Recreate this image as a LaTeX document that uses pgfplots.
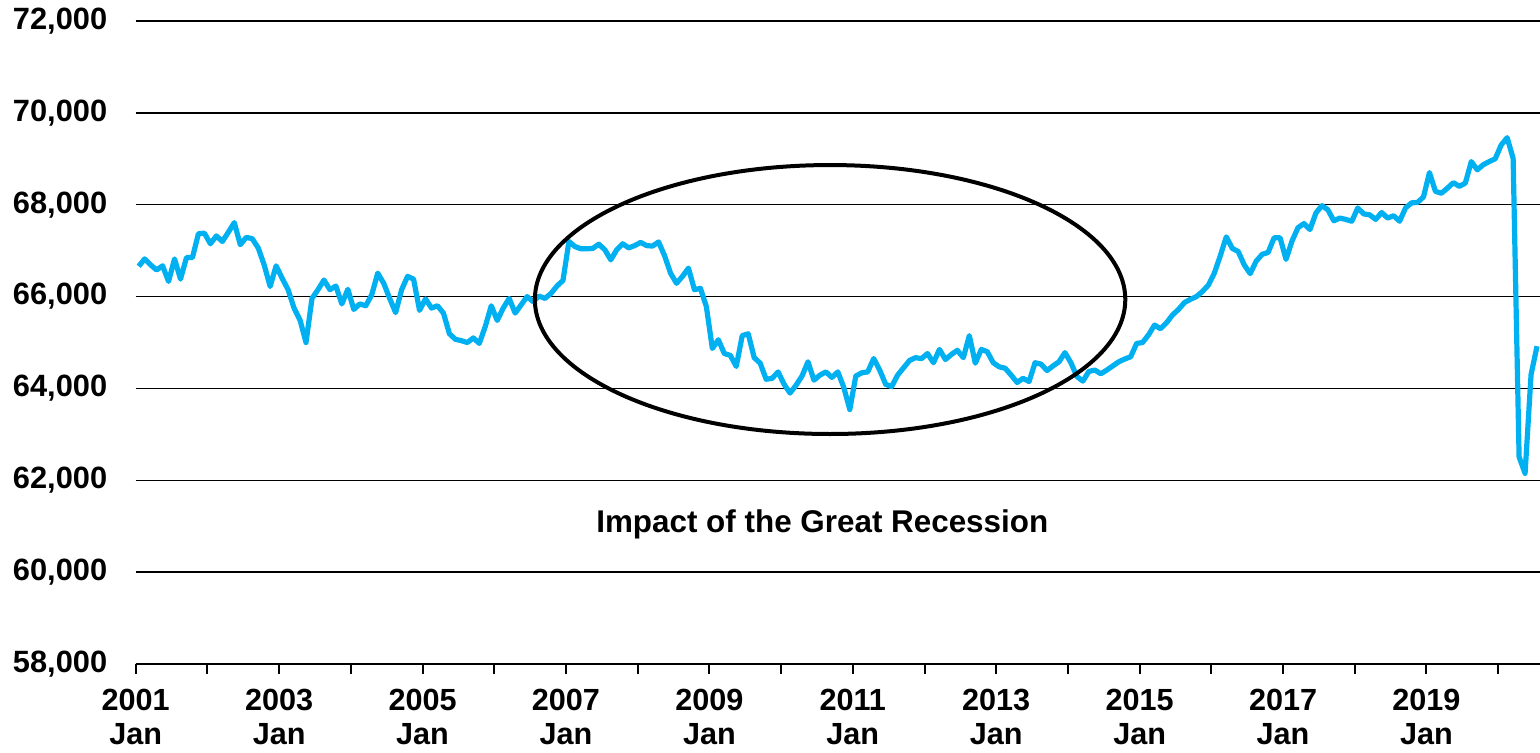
\documentclass[border=0pt]{standalone}
\usepackage{fontspec}
\setmainfont{Liberation Sans}
\usepackage{pgfplots}
\usepackage{pgfplotstable}
\pgfplotsset{compat=1.18}
\definecolor{lineblue}{RGB}{0,176,240}
\pgfplotstableread{
m v
0 66660
1 66820
2 66690
3 66580
4 66670
5 66330
6 66820
7 66380
8 66850
9 66850
10 67370
11 67380
12 67150
13 67320
14 67200
15 67400
16 67610
17 67130
18 67290
19 67260
20 67060
21 66690
22 66220
23 66670
24 66400
25 66150
26 65750
27 65490
28 65000
29 65960
30 66150
31 66360
32 66150
33 66230
34 65840
35 66160
36 65720
37 65840
38 65800
39 66040
40 66510
41 66290
42 65960
43 65650
44 66150
45 66440
46 66380
47 65700
48 65950
49 65750
50 65800
51 65640
52 65190
53 65070
54 65040
55 65000
56 65100
57 64980
58 65350
59 65800
60 65480
61 65750
62 65960
63 65640
64 65820
65 66000
66 65890
67 66010
68 65960
69 66070
70 66230
71 66350
72 67200
73 67090
74 67040
75 67040
76 67050
77 67140
78 67020
79 66800
80 67020
81 67150
82 67060
83 67110
84 67180
85 67110
86 67100
87 67190
88 66890
89 66510
90 66290
91 66440
92 66620
93 66150
94 66180
95 65780
96 64870
97 65060
98 64760
99 64720
100 64480
101 65150
102 65190
103 64670
104 64550
105 64200
106 64220
107 64360
108 64090
109 63900
110 64070
111 64270
112 64580
113 64180
114 64290
115 64360
116 64240
117 64360
118 64020
119 63540
120 64270
121 64340
122 64360
123 64650
124 64400
125 64090
126 64040
127 64290
128 64450
129 64610
130 64670
131 64650
132 64760
133 64560
134 64850
135 64630
136 64740
137 64830
138 64670
139 65150
140 64550
141 64850
142 64800
143 64560
144 64470
145 64440
146 64290
147 64130
148 64220
149 64150
150 64560
151 64530
152 64390
153 64490
154 64580
155 64780
156 64560
157 64260
158 64160
159 64370
160 64400
161 64320
162 64400
163 64490
164 64580
165 64640
166 64690
167 64980
168 65000
169 65170
170 65380
171 65300
172 65430
173 65600
174 65720
175 65870
176 65940
177 66000
178 66110
179 66250
180 66510
181 66890
182 67300
183 67050
184 66980
185 66690
186 66500
187 66770
188 66920
189 66960
190 67280
191 67280
192 66810
193 67210
194 67500
195 67590
196 67460
197 67820
198 67980
199 67890
200 67650
201 67710
202 67680
203 67640
204 67930
205 67800
206 67780
207 67680
208 67830
209 67710
210 67760
211 67640
212 67930
213 68040
214 68050
215 68170
216 68700
217 68290
218 68250
219 68360
220 68480
221 68400
222 68470
223 68940
224 68760
225 68870
226 68940
227 69000
228 69300
229 69460
230 69010
231 62510
232 62150
233 64300
234 64920
}\datatable
\begin{document}
\begin{tikzpicture}
\path[use as bounding box] (-67.85pt,-44pt) rectangle (702.15pt,332pt);
\begin{axis}[
  at={(0pt,0pt)}, anchor=south west,
  scale only axis, width=702.15pt, height=321.5pt,
  xmin=0, xmax=235, ymin=58000, ymax=72000,
  axis x line*=bottom, axis y line*=left,
  y axis line style={draw=none},
  x axis line style={line width=1pt, -},
  xtick={0,12,...,228},
  xticklabels={{2001\\Jan},,{2003\\Jan},,{2005\\Jan},,{2007\\Jan},,{2009\\Jan},,{2011\\Jan},,{2013\\Jan},,{2015\\Jan},,{2017\\Jan},,{2019\\Jan},},
  ytick={58000,60000,62000,64000,66000,68000,70000,72000},
  yticklabels={{58,000},{60,000},{62,000},{64,000},{66,000},{68,000},{70,000},{72,000}},
  scaled y ticks=false,
  tick align=outside,
  xtick style={black, line width=1pt},
  x tick style={/pgfplots/major tick length=5pt},
  ytick style={draw=none},
  y tick style={/pgfplots/major tick length=0pt},
  ymajorgrids,
  grid style={black, line width=0.7pt},
  xticklabel style={align=center, anchor=north, inner sep=0pt, yshift=-8pt,
    font=\bfseries\fontsize{15.3}{17}\selectfont},
  yticklabel style={anchor=east, inner sep=0pt, xshift=-9.8pt,
    font=\bfseries\fontsize{15.4}{17}\selectfont},
]
\addplot[lineblue, line width=2.6pt, line join=round, no marks]
  table[x expr=\thisrow{m}+0.5, y=v] {\datatable};
\draw[black, line width=2pt] (axis cs:116.2,65936) ellipse [x radius=49.4, y radius=2928];
\node[font=\bfseries\fontsize{15.7}{17}\selectfont] at (axis cs:114.9,61030) {Impact of the Great Recession};
\end{axis}
\end{tikzpicture}
\end{document}
